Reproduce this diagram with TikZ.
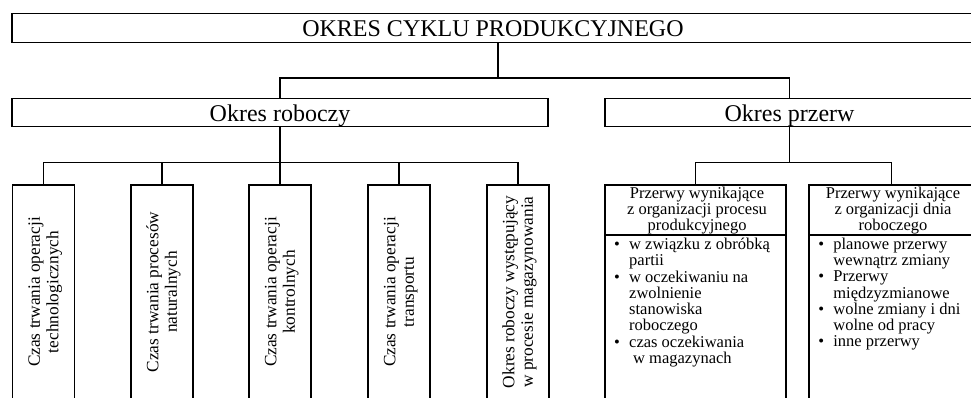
\documentclass[tikz,border=0pt]{standalone}
\usepackage{fontspec}
\setmainfont{Liberation Serif}
% bullet item helpers for the lists of breaks
\newcommand{\bulmark}{\makebox[15pt][l]{•}}
\newcommand{\bulgap}{\hspace*{15pt}}
\begin{document}
\begin{tikzpicture}[x=1pt,y=1pt,
  boxframe/.style={draw, line width=1.1pt, inner sep=0pt, outer sep=0pt},
  wire/.style={line width=1.1pt},
  bigtext/.style={font=\fontsize{24}{24}\selectfont, inner sep=0pt},
  smalltext/.style={font=\fontsize{16.5}{16}\selectfont, inner sep=0pt},
  vtext/.style={font=\fontsize{17.3}{18.5}\selectfont, inner sep=0pt, rotate=90}]
\useasboundingbox (0,0) rectangle (971,-397);
\clip (0,0) rectangle (971,-397);

% level 1: whole cycle
\node[boxframe, minimum width=962, minimum height=29] (top) at (493,-27.8) {};
\node[bigtext, anchor=base] (topT) at (493,-36) {OKRES CYKLU PRODUKCYJNEGO};

% level 2: working time and breaks
\node[boxframe, minimum width=536, minimum height=28.4] (rob) at (280,-112.5) {};
\node[bigtext, anchor=base] (robT) at (280,-121.5) {Okres roboczy};
\node[boxframe, minimum width=369, minimum height=28.4] (prz) at (789.5,-112.5) {};
\node[bigtext, anchor=base] (przT) at (789.5,-121.5) {Okres przerw};

% level 3, left: components of the working period
\node[boxframe, minimum width=62, minimum height=214] (c1) at (43.5,-292) {};
\node[vtext] (t1) at ([xshift=2pt]c1.center) {\begin{tabular}{@{}c@{}}Czas trwania operacji\\technologicznych\end{tabular}};
\node[boxframe, minimum width=62, minimum height=214] (c2) at (162,-292) {};
\node[vtext] (t2) at ([xshift=2pt]c2.center) {\begin{tabular}{@{}c@{}}Czas trwania procesów\\naturalnych\end{tabular}};
\node[boxframe, minimum width=62, minimum height=214] (c3) at (280,-292) {};
\node[vtext] (t3) at ([xshift=2pt]c3.center) {\begin{tabular}{@{}c@{}}Czas trwania operacji\\kontrolnych\end{tabular}};
\node[boxframe, minimum width=62, minimum height=214] (c4) at (399,-292) {};
\node[vtext] (t4) at ([xshift=2pt]c4.center) {\begin{tabular}{@{}c@{}}Czas trwania operacji\\transportu\end{tabular}};
\node[boxframe, minimum width=62, minimum height=214] (c5) at (518,-292) {};
\node[vtext] (t5) at ([xshift=2pt]c5.center) {\begin{tabular}{@{}c@{}}Okres roboczy występujący\\w procesie magazynowania\end{tabular}};

% level 3, right: kinds of breaks
\node[boxframe, minimum width=181, minimum height=220, anchor=north] (pa) at (695.5,-185) {};
\coordinate (paL) at (pa.west |- 0,-235);
\coordinate (paR) at (pa.east |- 0,-235);
\draw[wire] (paL) -- (paR);
\node[smalltext, anchor=north] (hA) at (697,-186.8) {\begin{tabular}{@{}c@{}}Przerwy wynikające\\z organizacji procesu\\produkcyjnego\end{tabular}};
\node[smalltext, anchor=north west] (lA) at (614,-238.1) {\begin{tabular}{@{}l@{}}
\bulmark w związku z obróbką\\
\bulgap partii\\
\bulmark w oczekiwaniu na\\
\bulgap zwolnienie\\
\bulgap stanowiska\\
\bulgap roboczego\\
\bulmark czas oczekiwania\\
\hspace*{19pt}w magazynach
\end{tabular}};

\node[boxframe, minimum width=165, minimum height=220, anchor=north] (pb) at (891.5,-185) {};
\coordinate (pbL) at (pb.west |- 0,-235);
\coordinate (pbR) at (pb.east |- 0,-235);
\draw[wire] (pbL) -- (pbR);
\node[smalltext, anchor=north] (hB) at (893,-186.8) {\begin{tabular}{@{}c@{}}Przerwy wynikające\\z organizacji dnia\\roboczego\end{tabular}};
\node[smalltext, anchor=north west] (lB) at (818.2,-238.1) {\begin{tabular}{@{}l@{}}
\bulmark planowe przerwy\\
\bulgap wewnątrz zmiany\\
\bulmark Przerwy\\
\bulgap międzyzmianowe\\
\bulmark wolne zmiany i dni\\
\bulgap wolne od pracy\\
\bulmark inne przerwy
\end{tabular}};

% connectors
\coordinate (j0) at (498,-78);
\draw[wire] ([xshift=5pt]top.south) -- (j0);
\draw[wire] (rob.north) |- (j0) -| (prz.north);
\draw[wire] (rob.south) -- ++(0,-36) coordinate (j1);
\foreach \i in {1,...,5} \draw[wire] (c\i.north) |- (j1);
\draw[wire] (prz.south) -- ++(0,-36) coordinate (j2);
\draw[wire] (pa.north) |- (j2);
\draw[wire] (pb.north) |- (j2);
\end{tikzpicture}
\end{document}
